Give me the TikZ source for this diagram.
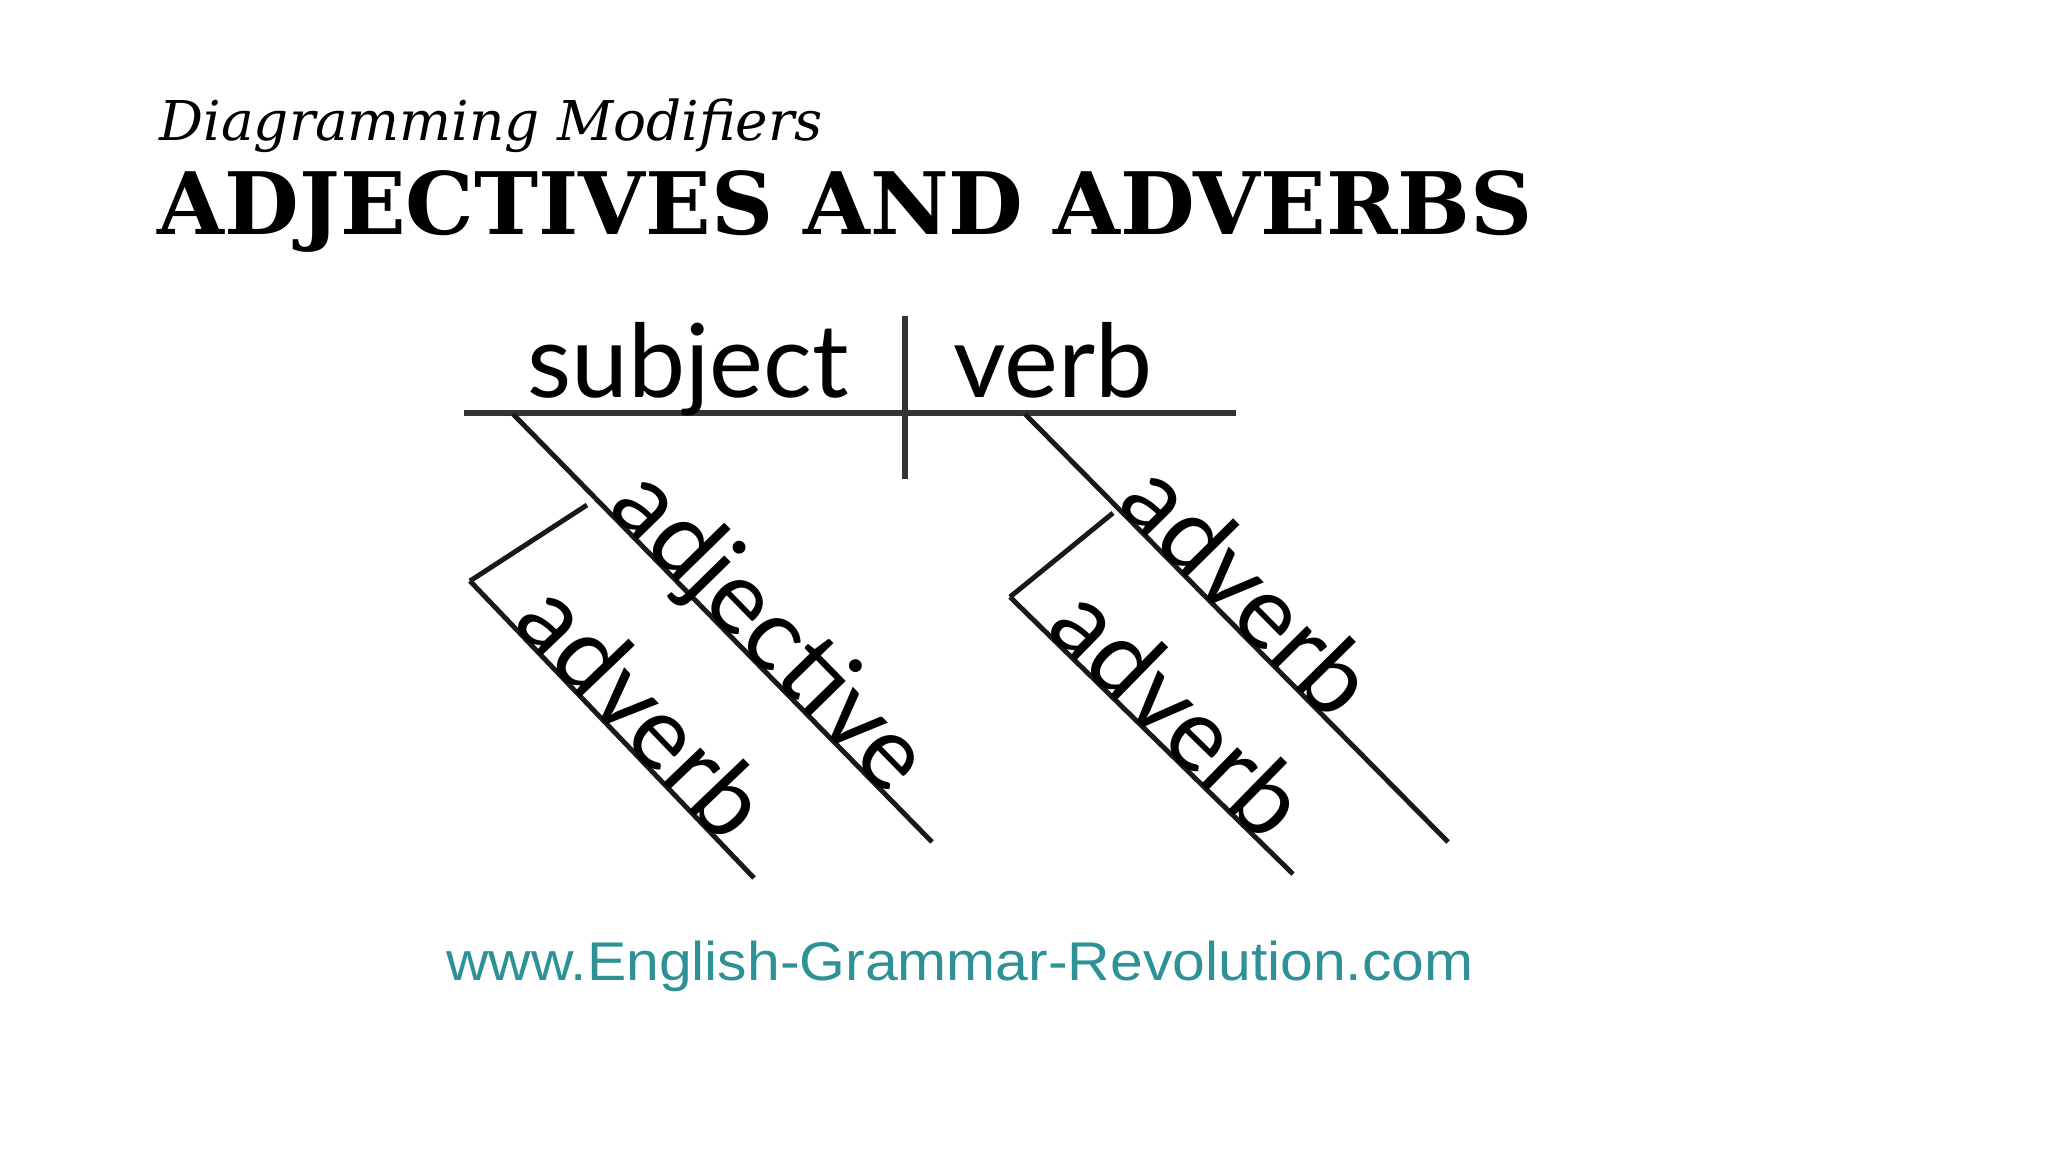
\documentclass[tikz,border=0pt]{standalone}
\usepackage{fontspec}
\setmainfont{DejaVu Serif}
\newfontfamily\diagfont{Lato}
\newfontfamily\urlfont{Liberation Sans}
\definecolor{urlteal}{RGB}{45,145,150}

\begin{document}
\begin{tikzpicture}
	[x=0.01cm,y=-0.01cm,
	 every node/.style={inner sep=0pt},
	 rule/.style={line width=1.7pt,draw=black!80},
	 slant/.style={line width=1.4pt,draw=black!90},
	 word/.style={font=\diagfont\fontsize{29}{32}\selectfont},
	 lbl/.style={word,sloped,anchor=base}]
	\useasboundingbox (0,0) rectangle (2048,1152);

	\node[anchor=base west,font=\itshape\fontsize{15.6}{18}\selectfont] (sub) at (159,141) {Diagramming Modifiers};
	\node[anchor=base west,font=\bfseries\fontsize{24.5}{28}\selectfont] (ttl) at (157,235) {ADJECTIVES AND ADVERBS};

	% base line
	\coordinate (l) at (464,413);
	\coordinate (r) at (1236,413);
	\coordinate (dt) at (905,316);
	\coordinate (db) at (905,479);
	\draw[rule] (l) -- (r);
	\draw[rule] (dt) -- (db);
	\node[word,anchor=base] (s) at (688,398) {subject};
	\node[word,anchor=base] (v) at (1053,398) {verb};

	% modifiers
	\coordinate (s1) at (513,414);
	\coordinate (s2) at (932,842);
	\coordinate (v1) at (1025,414);
	\coordinate (v2) at (1448,842);
	\coordinate (a0) at (587,505);
	\coordinate (a1) at (470,581);
	\coordinate (a2) at (754,878);
	\coordinate (b0) at (1113,513);
	\coordinate (b1) at (1010,597);
	\coordinate (b2) at (1293,874);
	\draw[slant] (a0) -- (a1) (b0) -- (b1);
	\path
	\foreach \startPt/\endPt/\where/\txt in {s1/s2/.56/adjective, a1/a2/.52/adverb, v1/v2/.47/adverb, b1/b2/.51/adverb}
	{
		(\startPt) edge[slant] node[lbl,pos=\where] {\txt} (\endPt)
	};

	\node[anchor=base,text=urlteal,font=\urlfont\fontsize{15.5}{18}\selectfont] (url) at (960,980)
		{\scalebox{1.08}[1]{www.English-Grammar-Revolution.com}};
\end{tikzpicture}
\end{document}
